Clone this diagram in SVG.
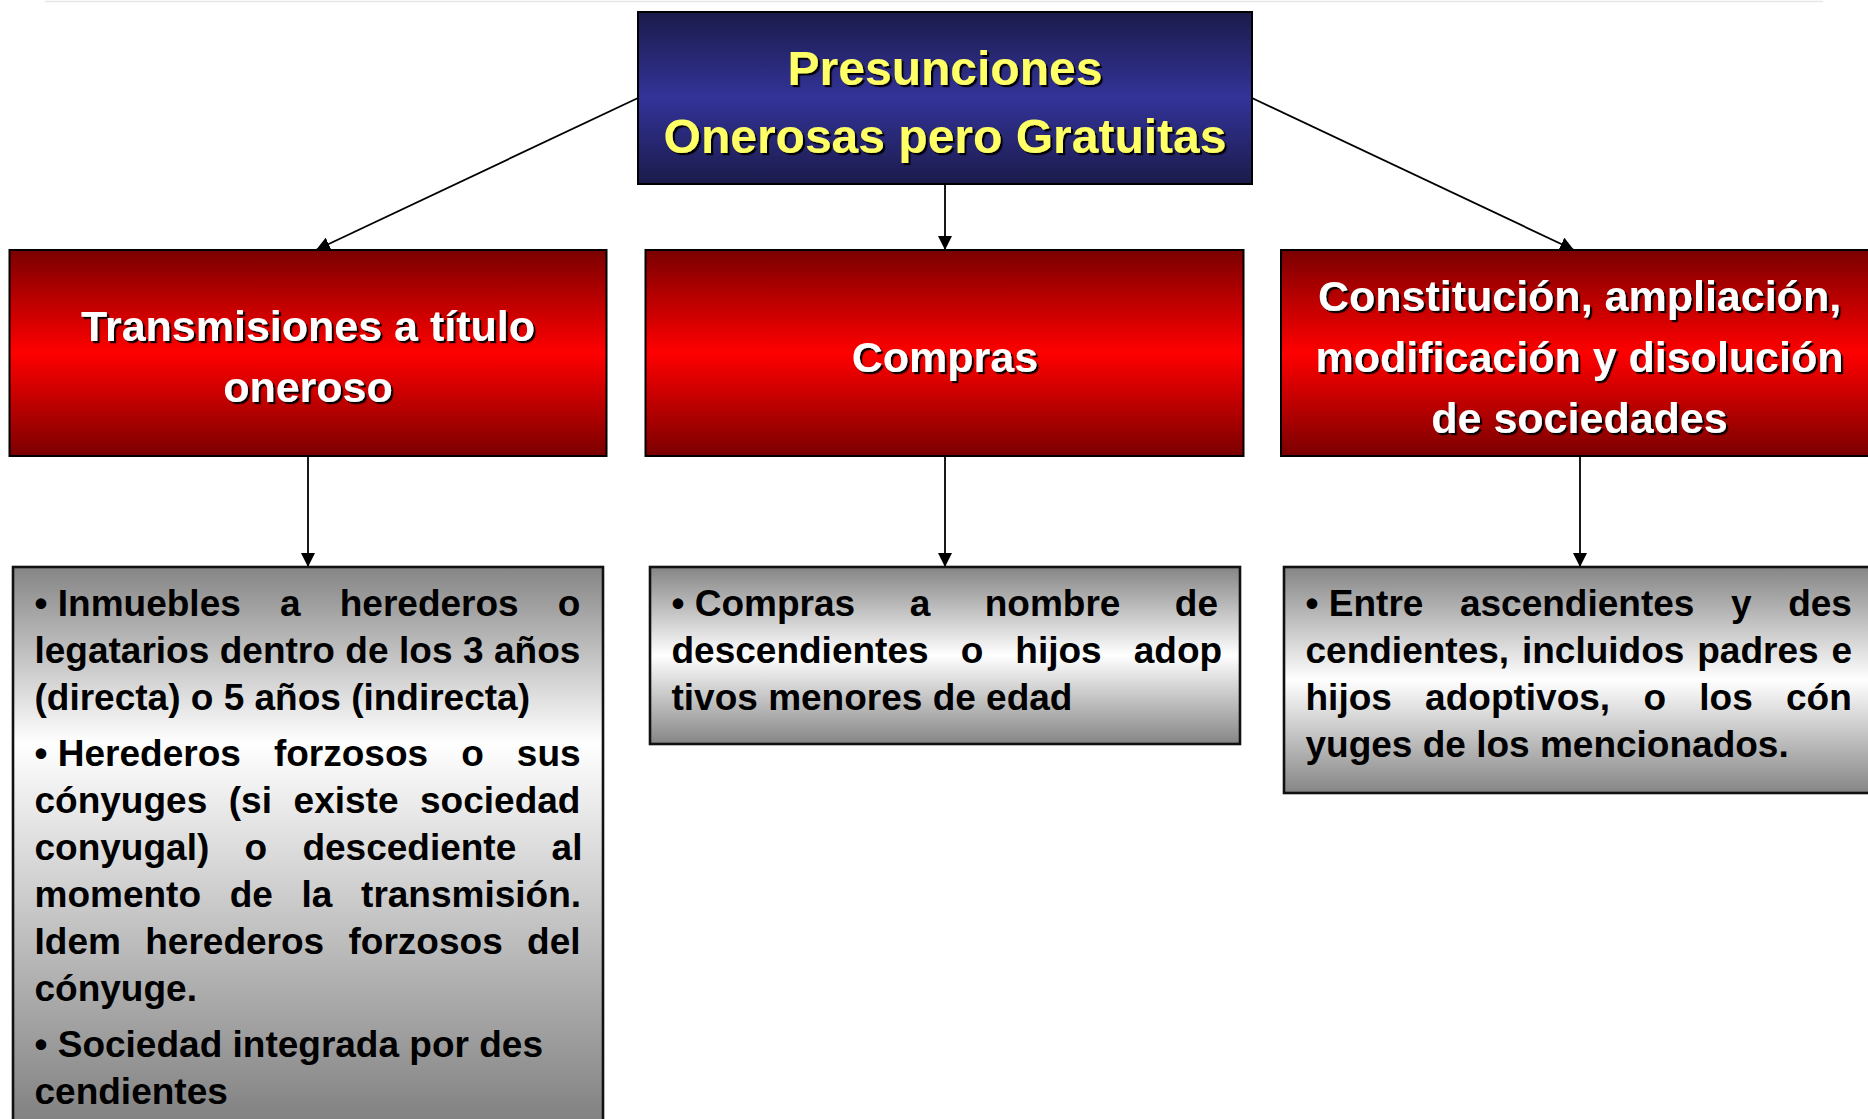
<svg xmlns="http://www.w3.org/2000/svg" width="1868" height="1119" viewBox="0 0 1868 1119">
<defs>
<linearGradient id="gBlue" x1="0" y1="0" x2="0" y2="1">
<stop offset="0" stop-color="#1b1b4b"/><stop offset="0.5" stop-color="#333399"/><stop offset="1" stop-color="#1b1b4b"/>
</linearGradient>
<linearGradient id="gRed" x1="0" y1="0" x2="0" y2="1">
<stop offset="0" stop-color="#7a0000"/><stop offset="0.5" stop-color="#ff0000"/><stop offset="1" stop-color="#7a0000"/>
</linearGradient>
<linearGradient id="gGray" x1="0" y1="0" x2="0" y2="1">
<stop offset="0" stop-color="#858585"/><stop offset="0.5" stop-color="#ffffff"/><stop offset="1" stop-color="#858585"/>
</linearGradient>
<linearGradient id="gGrayL" gradientUnits="userSpaceOnUse" x1="0" y1="567" x2="0" y2="1119">
<stop offset="0" stop-color="#858585"/><stop offset="0.32" stop-color="#ffffff"/><stop offset="1" stop-color="#828282"/>
</linearGradient>
<filter id="sh" x="-5%" y="-20%" width="110%" height="140%">
<feDropShadow dx="2.2" dy="2.2" stdDeviation="0.4" flood-color="#000" flood-opacity="0.95"/>
</filter>
<marker id="arr" markerUnits="userSpaceOnUse" markerWidth="14" markerHeight="14" refX="14" refY="7" orient="auto">
<path d="M0,0 L14,7 L0,14 z" fill="#000"/>
</marker>
</defs>
<style>
.title{font-family:"Liberation Sans",Arial,sans-serif;font-weight:bold;font-size:48px;fill:#ffff66;text-anchor:middle;filter:url(#sh)}
.head{font-family:"Liberation Sans",Arial,sans-serif;font-weight:bold;font-size:43px;fill:#ffffff;text-anchor:middle;filter:url(#sh)}
.body{font-family:"Liberation Sans",Arial,sans-serif;font-weight:bold;font-size:37px;fill:#000000}
.conn line{stroke:#000;stroke-width:1.8;marker-end:url(#arr)}
</style>
<rect width="1868" height="1119" fill="#ffffff"/>
<line x1="45" y1="1.5" x2="1823" y2="1.5" stroke="#e6e6e6" stroke-width="1.5"/>

<g id="conectores" class="conn">
<line x1="638" y1="98" x2="316" y2="250"/>
<line x1="945" y1="184" x2="945" y2="250"/>
<line x1="1252" y1="98" x2="1574" y2="250"/>
<line x1="308" y1="456" x2="308" y2="567"/>
<line x1="945" y1="456" x2="945" y2="567"/>
<line x1="1580" y1="456" x2="1580" y2="567"/>
</g>

<g id="presunciones">
<rect x="638" y="12" width="614" height="172" fill="url(#gBlue)" stroke="#000" stroke-width="2"/>
<text class="title" x="945" y="85">Presunciones</text>
<text class="title" x="945" y="153">Onerosas pero Gratuitas</text>
</g>

<g id="transmisiones">
<rect x="9.5" y="250" width="597" height="206" fill="url(#gRed)" stroke="#000" stroke-width="2"/>
<text class="head" x="308" y="341">Transmisiones a título</text>
<text class="head" x="308" y="402">oneroso</text>
</g>

<g id="compras">
<rect x="645.5" y="250" width="598" height="206" fill="url(#gRed)" stroke="#000" stroke-width="2"/>
<text class="head" x="945" y="372">Compras</text>
</g>

<g id="constitucion">
<rect x="1281" y="250" width="600" height="206" fill="url(#gRed)" stroke="#000" stroke-width="2"/>
<text class="head" x="1579.5" y="311">Constitución, ampliación,</text>
<text class="head" x="1579.5" y="372">modificación y disolución</text>
<text class="head" x="1579.5" y="433">de sociedades</text>
</g>

<g id="detalle-transmisiones">
<rect x="13" y="567" width="590" height="600" fill="url(#gGrayL)" stroke="#111" stroke-width="2.6"/>
<text class="body" x="34.5" y="616">•</text>
<text class="body" x="57.8" y="616" style="word-spacing:28.9px">Inmuebles a herederos o</text>
<text class="body" x="34.5" y="663" style="word-spacing:0.2px">legatarios dentro de los 3 años</text>
<text class="body" x="34.5" y="710">(directa) o 5 años (indirecta)</text>
<text class="body" x="34.5" y="766">•</text>
<text class="body" x="57.8" y="766" style="word-spacing:22.8px">Herederos forzosos o sus</text>
<text class="body" x="34.5" y="813" style="word-spacing:11.3px">cónyuges (si existe sociedad</text>
<text class="body" x="34.5" y="860" style="word-spacing:25px">conyugal) o descediente al</text>
<text class="body" x="34.5" y="907" style="word-spacing:18.4px">momento de la transmisión.</text>
<text class="body" x="34.5" y="954" style="word-spacing:14.1px">Idem herederos forzosos del</text>
<text class="body" x="34.5" y="1001">cónyuge.</text>
<text class="body" x="34.5" y="1057">• Sociedad integrada por des</text>
<text class="body" x="34.5" y="1104">cendientes</text>
</g>

<g id="detalle-compras">
<rect x="650" y="567" width="590" height="177" fill="url(#gGray)" stroke="#111" stroke-width="2.6"/>
<text class="body" x="671.5" y="616">•</text>
<text class="body" x="694.8" y="616" style="word-spacing:44.2px">Compras a nombre de</text>
<text class="body" x="671.5" y="663" style="word-spacing:21.8px">descendientes o hijos adop</text>
<text class="body" x="671.5" y="710">tivos menores de edad</text>
</g>

<g id="detalle-constitucion">
<rect x="1284" y="567" width="592" height="226" fill="url(#gGray)" stroke="#111" stroke-width="2.6"/>
<text class="body" x="1305.5" y="616">•</text>
<text class="body" x="1328.8" y="616" style="word-spacing:26.3px">Entre ascendientes y des</text>
<text class="body" x="1305.5" y="663" style="word-spacing:2.6px">cendientes, incluidos padres e</text>
<text class="body" x="1305.5" y="710" style="word-spacing:23px">hijos adoptivos, o los cón</text>
<text class="body" x="1305.5" y="757">yuges de los mencionados.</text>
</g>
</svg>
